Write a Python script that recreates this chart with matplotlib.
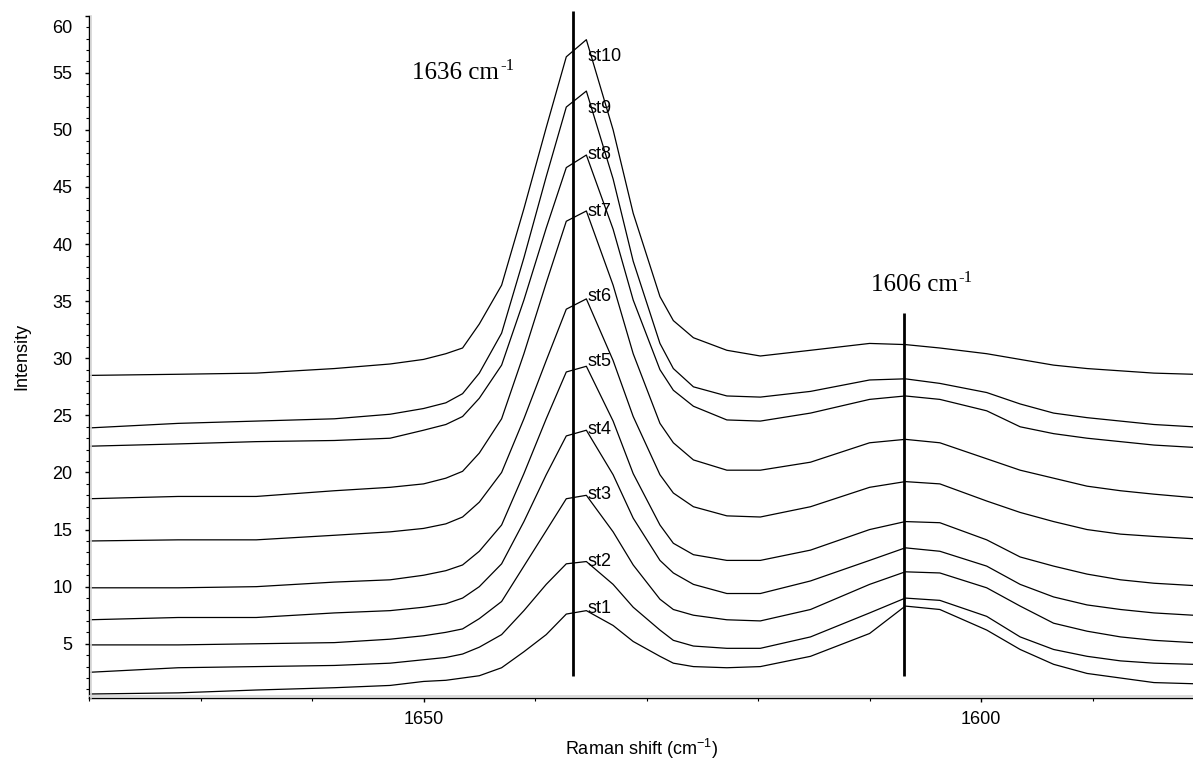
import matplotlib
matplotlib.use("Agg")
import matplotlib.pyplot as plt
from matplotlib.lines import Line2D
from matplotlib.ticker import FixedLocator, MultipleLocator

plt.rcParams['font.family'] = ['Liberation Sans', 'DejaVu Sans']

# Raman shift grid (cm-1)
shift = [1680, 1672, 1665, 1658, 1653, 1650, 1648, 1646.5, 1645, 1643, 1641, 1639,
         1637.2, 1635.4, 1633, 1631.2, 1628.8, 1627.6, 1625.8, 1622.8, 1619.8, 1615.3,
         1610, 1606.8, 1603.7, 1599.5, 1596.5, 1593.5, 1590.5, 1587.5, 1584.5, 1581]

st1 = [0.6, 0.7, 0.95, 1.15, 1.35, 1.7, 1.8, 2.0, 2.2, 2.9, 4.3, 5.8, 7.6, 7.9,
       6.6, 5.2, 3.9, 3.3, 3.0, 2.9, 3.0, 3.9, 5.9, 8.3, 8.0, 6.2, 4.5, 3.2, 2.4, 2.0, 1.6, 1.5]
st2 = [2.5, 2.9, 3.0, 3.1, 3.3, 3.6, 3.8, 4.1, 4.7, 5.8, 7.9, 10.2, 12.0, 12.2,
       10.2, 8.2, 6.2, 5.3, 4.8, 4.6, 4.6, 5.6, 7.7, 9.0, 8.8, 7.4, 5.6, 4.5, 3.9, 3.5, 3.3, 3.2]
st3 = [4.9, 4.9, 5.0, 5.1, 5.4, 5.7, 6.0, 6.3, 7.2, 8.7, 11.8, 14.9, 17.7, 18.0,
       14.8, 11.9, 8.9, 8.0, 7.5, 7.1, 7.0, 8.0, 10.2, 11.3, 11.2, 9.9, 8.3, 6.8, 6.1, 5.6, 5.3, 5.1]
st4 = [7.1, 7.3, 7.3, 7.7, 7.9, 8.2, 8.5, 9.0, 10.0, 12.0, 15.7, 19.8, 23.2, 23.7,
       19.8, 16.0, 12.3, 11.2, 10.2, 9.4, 9.4, 10.5, 12.3, 13.4, 13.1, 11.8, 10.2, 9.1, 8.4, 8.0, 7.7, 7.5]
st5 = [9.9, 9.9, 10.0, 10.4, 10.6, 11.0, 11.4, 11.9, 13.1, 15.4, 19.9, 24.7, 28.8, 29.3,
       24.5, 19.9, 15.4, 13.8, 12.8, 12.3, 12.3, 13.2, 15.0, 15.7, 15.6, 14.1, 12.6, 11.8, 11.1, 10.6, 10.3, 10.1]
st6 = [14.0, 14.1, 14.1, 14.5, 14.8, 15.1, 15.5, 16.1, 17.4, 20.0, 24.7, 29.8, 34.3, 35.2,
       29.8, 24.9, 19.8, 18.2, 17.0, 16.2, 16.1, 17.0, 18.7, 19.2, 19.0, 17.5, 16.5, 15.7, 15.0, 14.6, 14.4, 14.2]
st7 = [17.7, 17.9, 17.9, 18.4, 18.7, 19.0, 19.5, 20.1, 21.7, 24.7, 30.4, 36.6, 42.0, 42.9,
       36.4, 30.4, 24.3, 22.6, 21.1, 20.2, 20.2, 20.9, 22.6, 22.9, 22.6, 21.2, 20.2, 19.5, 18.8, 18.4, 18.1, 17.8]
st8 = [22.3, 22.5, 22.7, 22.8, 23.0, 23.7, 24.2, 24.9, 26.5, 29.4, 35.1, 41.4, 46.7, 47.8,
       41.3, 35.1, 29.0, 27.2, 25.8, 24.6, 24.5, 25.2, 26.4, 26.7, 26.4, 25.4, 24.0, 23.4, 23.0, 22.7, 22.4, 22.2]
st9 = [23.9, 24.3, 24.5, 24.7, 25.1, 25.6, 26.1, 26.9, 28.7, 32.2, 38.8, 45.9, 52.0, 53.4,
       45.7, 38.5, 31.3, 29.1, 27.5, 26.7, 26.6, 27.1, 28.1, 28.2, 27.8, 27.0, 26.0, 25.2, 24.8, 24.5, 24.2, 24.0]
st10 = [28.5, 28.6, 28.7, 29.1, 29.5, 29.9, 30.4, 30.9, 33.0, 36.4, 43.1, 50.2, 56.4, 57.9,
        50.0, 42.7, 35.4, 33.3, 31.8, 30.7, 30.2, 30.7, 31.3, 31.2, 30.9, 30.4, 29.9, 29.4, 29.1, 28.9, 28.7, 28.6]

spectra = [st1, st2, st3, st4, st5, st6, st7, st8, st9, st10]
names = ['st1', 'st2', 'st3', 'st4', 'st5', 'st6', 'st7', 'st8', 'st9', 'st10']

# band markers
bands = [1636.6, 1606.9]
band_text = ['1636 cm', '1606 cm']

# layout
W, H = 1193, 761
fig = plt.figure(figsize=(W / 100, H / 100), dpi=100)
ax = fig.add_axes([89 / W, 1 - 698 / H, (W - 89) / W, (698 - 15.7) / H])

for y in spectra:
    ax.plot(shift, y, color='black', lw=0.9)

label_y = [8.06, 12.2, 18.05, 23.74, 29.72, 35.41, 42.86, 47.82, 51.85, 56.43]
for name, ly in zip(names, label_y):
    ax.text(1635.3, ly, name, fontsize=13, ha='left', va='center')

line_top = [60.4, 34.0]
for b, top in zip(bands, line_top):
    ax.plot([b, b], [2.2, top], color='black', lw=2.0, clip_on=False,
            solid_capstyle='butt')

text_pos = [(1651.0, 55.0), (1609.9, 36.4)]
for (tx, ty), s in zip(text_pos, band_text):
    t = ax.text(tx, ty, s, family='Liberation Serif', fontsize=18,
                ha='left', va='center')
    ax.annotate('-1', xy=(1, 1), xycoords=t, xytext=(0.5, 3),
                textcoords='offset points', family='Liberation Serif',
                fontsize=12, ha='left', va='top')

ax.set_xlim(1680, 1581)
ax.set_ylim(0.25, 60)

ax.xaxis.set_major_locator(FixedLocator([1650, 1600]))
ax.xaxis.set_minor_locator(MultipleLocator(10))
ax.yaxis.set_minor_locator(MultipleLocator(1))
ax.set_yticks(range(5, 61, 5))
ax.set_yticklabels([str(v) for v in range(5, 60, 5)] + [''])
ax.annotate('60', xy=(0, 58.9), xycoords=('axes fraction', 'data'),
            xytext=(-12, 0), textcoords='offset points', fontsize=13,
            ha='right', va='center')

ax.tick_params(axis='both', which='major', length=3, width=1, labelsize=13,
               direction='out')
ax.tick_params(axis='both', which='minor', length=2, width=0.8, direction='out')
ax.tick_params(axis='y', which='major', pad=9)
ax.tick_params(axis='x', which='major', pad=6)

for side in ['top', 'right']:
    ax.spines[side].set_visible(False)
for side in ['left', 'bottom']:
    ax.spines[side].set_linewidth(1.0)

# faint grey shading along the axes, as in the original program
fig.add_artist(Line2D([(89 + 2) / W, (89 + 2) / W], [1 - 698 / H, 1 - 15.7 / H],
                      color='#d4d4d4', lw=1.2, transform=fig.transFigure))
fig.add_artist(Line2D([89 / W, 1], [1 - 696 / H, 1 - 696 / H],
                      color='#d4d4d4', lw=1.2, transform=fig.transFigure))

ax.set_xlabel('Raman shift (cm$^{\\mathregular{-1}}$)', fontsize=13, labelpad=7)
ax.set_ylabel('Intensity', fontsize=13, labelpad=16)

fig.savefig('out.png', dpi=100)
